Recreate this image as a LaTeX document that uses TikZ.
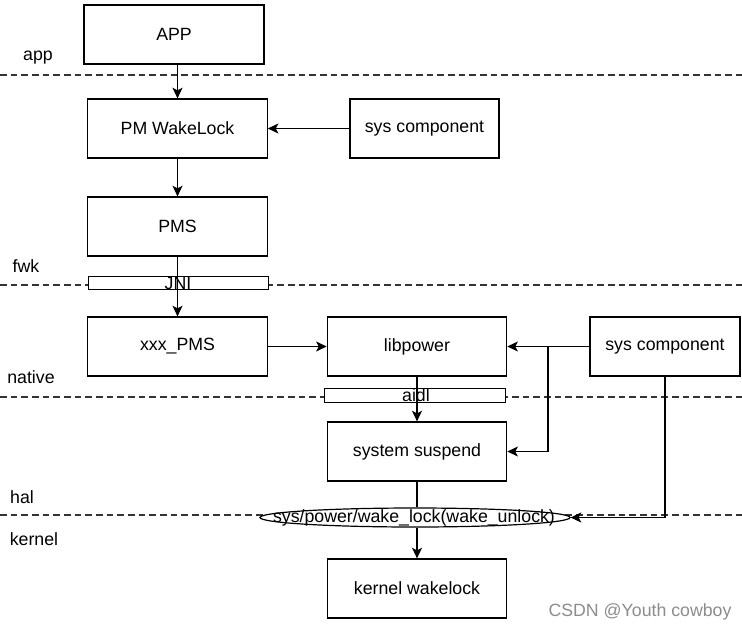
\documentclass[tikz,border=0pt]{standalone}
\usepackage{fontspec}
\setmainfont{Liberation Sans}
\usetikzlibrary{arrows.meta,shapes.geometric}
\begin{document}
\begin{tikzpicture}[x=0.75pt,y=-0.75pt,
  every node/.style={font=\fontsize{13.3pt}{15pt}\selectfont},
  box/.style={draw, fill=white, line width=0.9pt, inner sep=0pt, minimum width=134.5pt, minimum height=44.25pt},
  smallbox/.style={draw, fill=white, line width=0.9pt, inner sep=0pt, minimum width=135.5pt, minimum height=10pt},
  lbl/.style={inner sep=0pt},
  sep/.style={dashed, dash pattern=on 5pt off 3pt, line width=0.8pt, black!80},
  arr/.style={line width=0.9pt, -{Stealth[length=8pt,width=7.5pt,inset=2pt]}},
  ln/.style={line width=0.9pt}]
\useasboundingbox (0,0) rectangle (742,632);
% separators
\draw[sep] (0,75) -- (742,75);
\draw[sep] (0,285) -- (742,285);
\draw[sep] (0,397) -- (742,397);
\draw[sep] (0,515) -- (742,515);
% layer labels
\node[lbl] (Lapp) at (38,58) {app};
\node[lbl] (Lfwk) at (26,266) {fwk};
\node[lbl] (Lnative) at (31,377) {native};
\node[lbl] (Lhal) at (22,497) {hal};
\node[lbl] (Lkernel) at (34,539) {kernel};
% boxes
\node[box, minimum width=135pt] (app) at (174,34.5) {APP};
\node[box] (pmw) at (177.5,128.5) {PM WakeLock};
\node[box, minimum width=111.75pt] (syst) at (424.5,128.5) {sys component};
\node[box] (pms) at (177.5,226.5) {PMS};
\node[smallbox] (jni) at (178.5,283) {};
\node[box] (xxx) at (177.5,346.5) {xxx\_PMS};
\node[box] (lib) at (417,346.5) {libpower};
\node[box, minimum width=112.5pt] (sysr) at (665,346.5) {sys component};
\node[smallbox] (aidl) at (415,395.5) {};
\node[box] (ss) at (417,451.5) {system suspend};
\node[draw, fill=white, ellipse, line width=0.9pt, inner sep=0pt, minimum width=232.5pt, minimum height=14.25pt] (ell) at (415,517.5) {};
\node[box] (kw) at (417,588.5) {kernel wakelock};
% connectors
\draw[arr] (pmw.north |- app.south) -- (pmw.north);
\draw[arr] (syst.west) -- (pmw.east);
\draw[arr] (pmw.south) -- (pms.north);
\draw[arr] (pms.south) -- (xxx.north);
\draw[arr] (xxx.east) -- (lib.west);
\draw[arr] (sysr.west) -- (lib.east);
\coordinate (br) at (548,346.5);
\draw[arr] (br) |- (ss.east);
\draw[arr] (lib.south) -- (ss.north);
\draw[ln] (ss.south) -- (ell.north -| ss.south);
\draw[arr] (ell.south -| kw.north) -- (kw.north);
\draw[arr] (sysr.south) |- (ell.east);
% texts over small boxes
\node[lbl] (jnit) at (178,283) {JNI};
\node[lbl] (aidlt) at (416,395.5) {aidl};
\node[lbl] (ellt) at (414,517.5) {sys/power/wake\_lock(wake\_unlock)};
\node[lbl, text=black!45] (wm) at (640,612) {CSDN @Youth cowboy};
\end{tikzpicture}
\end{document}
